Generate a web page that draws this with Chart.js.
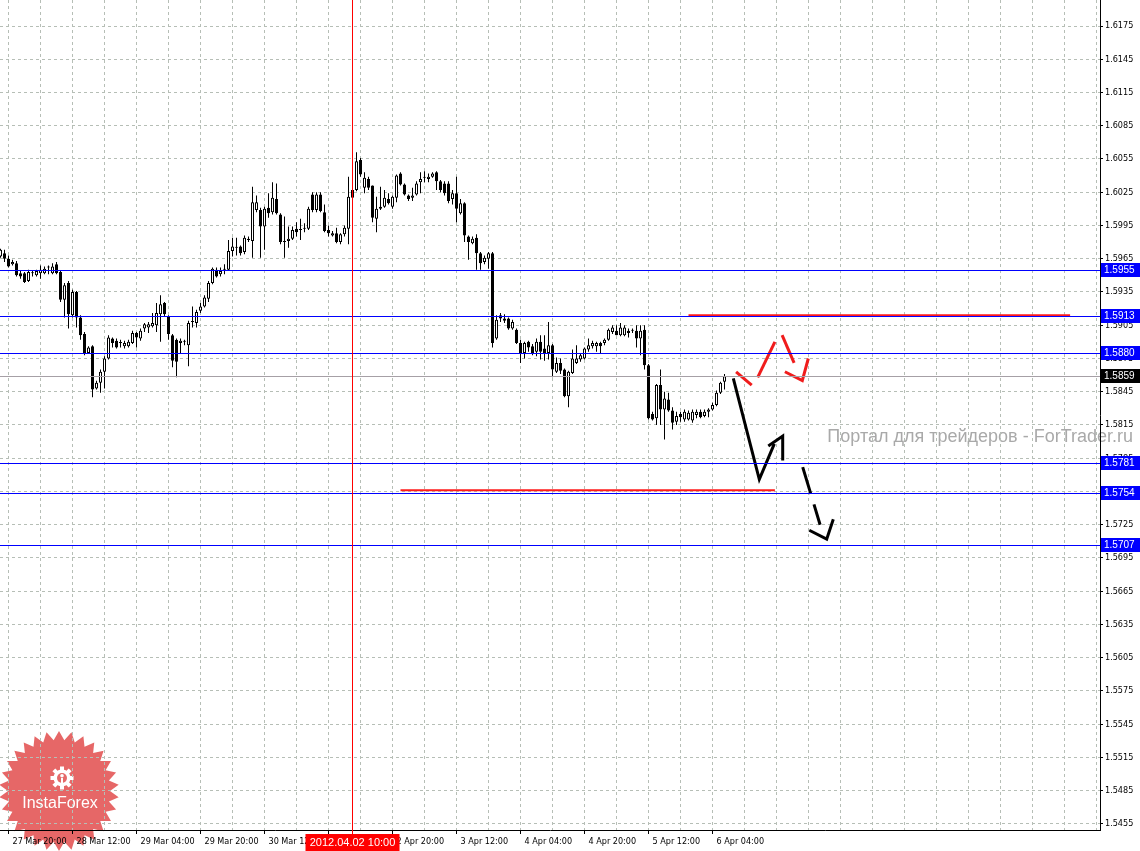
<!DOCTYPE html>
<html>
<head>
<meta charset="utf-8">
<script src="https://cdn.jsdelivr.net/npm/chart.js@4.4.1/dist/chart.umd.min.js"></script>
<style>
  html, body { margin: 0; padding: 0; background: #fff; }
  canvas { display: block; }
</style>
</head>
<body>
<canvas id="chart" width="1140" height="851"></canvas>
<script>
// GBPUSD H1 - bar index 0 = 27 Mar 20:00
const firstBar = -2;
const opens = [
  1.5967,1.5970,1.5965,1.5960,1.5961,1.5952,1.5952,1.5945,1.5952,1.5950,
  1.5952,1.5952,1.5957,1.5952,1.5960,1.5953,1.5928,1.5943,1.5914,1.5935,
  1.5912,1.5897,1.5880,1.5886,1.5848,1.5853,1.5863,1.5875,1.5893,1.5891,
  1.5889,1.5886,1.5886,1.5889,1.5898,1.5893,1.5902,1.5903,1.5904,1.5905,
  1.5915,1.5925,1.5913,1.5896,1.5892,1.5889,1.5890,1.5887,1.5908,1.5907,
  1.5918,1.5922,1.5929,1.5943,1.5955,1.5951,1.5955,1.5955,1.5972,1.5975,
  1.5976,1.5971,1.5983,1.5981,1.6009,1.6009,1.5994,1.6011,1.6007,1.6019,
  1.6005,1.5980,1.5981,1.5983,1.5992,1.5991,1.5992,1.5992,1.6023,1.6009,
  1.6023,1.6007,1.5991,1.5986,1.5988,1.5980,1.5987,1.5992,1.6027,1.6027,
  1.6054,1.6029,1.6037,1.6031,1.6001,1.6010,1.6012,1.6019,1.6012,1.6020,
  1.6042,1.6032,1.6022,1.6020,1.6023,1.6034,1.6038,1.6037,1.6039,1.6043,
  1.6035,1.6033,1.6033,1.6019,1.6024,1.6006,1.6015,1.5985,1.5979,1.5984,
  1.5970,1.5962,1.5965,1.5970,1.5893,1.5914,1.5911,1.5911,1.5902,1.5901,
  1.5889,1.5880,1.5890,1.5886,1.5881,1.5890,1.5884,1.5880,1.5887,1.5863,
  1.5871,1.5865,1.5841,1.5862,1.5871,1.5874,1.5875,1.5883,1.5886,1.5886,
  1.5889,1.5889,1.5892,1.5899,1.5900,1.5896,1.5896,1.5900,1.5900,1.5900,
  1.5893,1.5901,1.5869,1.5825,1.5821,1.5851,1.5829,1.5838,1.5828,1.5818,
  1.5825,1.5820,1.5820,1.5819,1.5824,1.5827,1.5823,1.5827,1.5829,1.5833,
  1.5844,1.5854
];
const highs = [
  1.5974,1.5973,1.5968,1.5964,1.5963,1.5954,1.5953,1.5955,1.5954,1.5955,
  1.5959,1.5958,1.5959,1.5961,1.5962,1.5954,1.5943,1.5945,1.5937,1.5936,
  1.5914,1.5899,1.5886,1.5887,1.5855,1.5865,1.5877,1.5896,1.5894,1.5893,
  1.5892,1.5891,1.5892,1.5900,1.5899,1.5902,1.5907,1.5908,1.5916,1.5925,
  1.5932,1.5926,1.5914,1.5897,1.5893,1.5893,1.5892,1.5909,1.5922,1.5919,
  1.5925,1.5932,1.5945,1.5957,1.5957,1.5957,1.5960,1.5982,1.5984,1.5984,
  1.5977,1.5986,1.5985,1.6030,1.6022,1.6011,1.6012,1.6024,1.6034,1.6033,
  1.6006,1.6003,1.5994,1.5994,1.5998,1.6001,1.5997,1.6012,1.6025,1.6025,
  1.6025,1.6014,1.5995,1.5990,1.5993,1.5988,1.5995,1.6039,1.6028,1.6061,
  1.6056,1.6043,1.6039,1.6031,1.6021,1.6030,1.6027,1.6024,1.6022,1.6041,
  1.6043,1.6033,1.6023,1.6029,1.6035,1.6043,1.6044,1.6042,1.6043,1.6044,
  1.6036,1.6035,1.6035,1.6027,1.6039,1.6019,1.6016,1.5986,1.5985,1.5987,
  1.5971,1.5968,1.5971,1.5971,1.5914,1.5916,1.5915,1.5912,1.5910,1.5902,
  1.5892,1.5890,1.5891,1.5888,1.5893,1.5896,1.5896,1.5908,1.5888,1.5876,
  1.5875,1.5866,1.5864,1.5883,1.5887,1.5879,1.5885,1.5893,1.5891,1.5890,
  1.5890,1.5893,1.5902,1.5905,1.5905,1.5907,1.5905,1.5902,1.5902,1.5905,
  1.5905,1.5905,1.5870,1.5827,1.5852,1.5865,1.5845,1.5844,1.5831,1.5827,
  1.5827,1.5829,1.5828,1.5829,1.5829,1.5829,1.5829,1.5830,1.5835,1.5846,
  1.5854,1.5861
];
const lows = [
  1.5966,1.5962,1.5957,1.5959,1.5949,1.5947,1.5943,1.5944,1.5949,1.5949,
  1.5947,1.5951,1.5951,1.5951,1.5951,1.5926,1.5912,1.5902,1.5912,1.5903,
  1.5892,1.5878,1.5879,1.5840,1.5847,1.5844,1.5848,1.5874,1.5885,1.5884,
  1.5885,1.5884,1.5885,1.5888,1.5885,1.5891,1.5899,1.5898,1.5903,1.5899,
  1.5890,1.5913,1.5892,1.5867,1.5858,1.5880,1.5887,1.5868,1.5903,1.5903,
  1.5916,1.5921,1.5926,1.5942,1.5948,1.5949,1.5951,1.5954,1.5967,1.5968,
  1.5968,1.5969,1.5980,1.5966,1.6007,1.5966,1.5973,1.6002,1.6005,1.6005,
  1.5978,1.5966,1.5975,1.5982,1.5985,1.5982,1.5989,1.5991,1.6007,1.6007,
  1.6007,1.5989,1.5985,1.5985,1.5979,1.5978,1.5985,1.5978,1.6019,1.6026,
  1.6039,1.6024,1.6027,1.5998,1.5989,1.6009,1.6011,1.6014,1.6010,1.6016,
  1.6031,1.6022,1.6017,1.6017,1.6022,1.6024,1.6034,1.6034,1.6038,1.6027,
  1.6025,1.6022,1.6015,1.6014,1.5998,1.6005,1.5980,1.5964,1.5978,1.5955,
  1.5955,1.5960,1.5956,1.5885,1.5892,1.5908,1.5907,1.5901,1.5901,1.5888,
  1.5871,1.5875,1.5881,1.5878,1.5877,1.5874,1.5873,1.5874,1.5858,1.5862,
  1.5861,1.5840,1.5831,1.5861,1.5870,1.5872,1.5874,1.5881,1.5884,1.5881,
  1.5880,1.5887,1.5891,1.5897,1.5896,1.5895,1.5895,1.5894,1.5898,1.5885,
  1.5878,1.5865,1.5820,1.5819,1.5815,1.5815,1.5802,1.5827,1.5811,1.5815,
  1.5818,1.5818,1.5819,1.5817,1.5821,1.5821,1.5822,1.5822,1.5828,1.5832,
  1.5843,1.5847
];
const closes = [
  1.5973,1.5965,1.5958,1.5962,1.5950,1.5949,1.5944,1.5953,1.5952,1.5954,
  1.5955,1.5956,1.5957,1.5958,1.5952,1.5928,1.5941,1.5915,1.5935,1.5912,
  1.5896,1.5880,1.5885,1.5847,1.5853,1.5863,1.5875,1.5894,1.5889,1.5885,
  1.5889,1.5889,1.5890,1.5898,1.5894,1.5900,1.5906,1.5906,1.5907,1.5916,
  1.5924,1.5915,1.5897,1.5873,1.5872,1.5891,1.5890,1.5907,1.5908,1.5917,
  1.5922,1.5930,1.5943,1.5956,1.5949,1.5954,1.5955,1.5972,1.5976,1.5975,
  1.5970,1.5984,1.5982,1.6016,1.6016,1.5994,1.6010,1.6006,1.6020,1.6006,
  1.5980,1.5980,1.5983,1.5991,1.5989,1.5991,1.5992,1.6010,1.6009,1.6023,
  1.6008,1.5990,1.5988,1.5988,1.5980,1.5987,1.5993,1.6021,1.6020,1.6053,
  1.6041,1.6038,1.6029,1.6002,1.6010,1.6012,1.6020,1.6015,1.6021,1.6040,
  1.6032,1.6023,1.6019,1.6022,1.6033,1.6037,1.6038,1.6039,1.6042,1.6035,
  1.6027,1.6024,1.6017,1.6024,1.6010,1.6015,1.5986,1.5980,1.5983,1.5970,
  1.5961,1.5966,1.5970,1.5889,1.5910,1.5911,1.5909,1.5902,1.5908,1.5889,
  1.5880,1.5889,1.5885,1.5880,1.5890,1.5881,1.5880,1.5887,1.5865,1.5871,
  1.5864,1.5841,1.5863,1.5875,1.5875,1.5878,1.5884,1.5887,1.5889,1.5889,
  1.5886,1.5892,1.5901,1.5903,1.5896,1.5903,1.5903,1.5898,1.5900,1.5893,
  1.5900,1.5869,1.5821,1.5820,1.5851,1.5829,1.5839,1.5828,1.5817,1.5823,
  1.5822,1.5827,1.5826,1.5827,1.5827,1.5822,1.5827,1.5829,1.5833,1.5844,
  1.5853,1.5859
];

const timeLabelBars = [0, 16, 32, 48, 64, 80, 96, 112, 128, 144, 160, 176];
const timeLabels = ['27 Mar 20:00', '28 Mar 12:00', '29 Mar 04:00', '29 Mar 20:00', '30 Mar 12:00',
  '2 Apr 04:00', '2 Apr 20:00', '3 Apr 12:00', '4 Apr 04:00', '4 Apr 20:00', '5 Apr 12:00', '6 Apr 04:00'];
const priceTicks = [1.5455, 1.5485, 1.5515, 1.5545, 1.5575, 1.5605, 1.5635, 1.5665, 1.5695,
  1.5725, 1.5755, 1.5785, 1.5815, 1.5845, 1.5875, 1.5905, 1.5935, 1.5965, 1.5995,
  1.6025, 1.6055, 1.6085, 1.6115, 1.6145, 1.6175];

const levels = [1.5955, 1.5913, 1.5880, 1.5781, 1.5754, 1.5707];
const bidPrice = 1.5859;
const cursorBar = 86;
const cursorLabel = '2012.04.02 10:00';
const watermark = 'Портал для трейдеров - ForTrader.ru';

// hand drawn marks: [bar, price]
const redLines = [
  [[170, 1.5914], [265.4, 1.5914]],
  [[98, 1.5756], [191.6, 1.5756]]
];
const redArrows = [
  [[181.9, 1.5863], [185.8, 1.5851]],
  [[187.3, 1.5858], [191.6, 1.5890]],
  [[193.4, 1.5896], [196.4, 1.5871]],
  [[194.1, 1.5863], [198.45, 1.5855], [199.95, 1.5875]]
];
const blackArrows = [
  [[181.2, 1.5857], [187.7, 1.5766], [191.45, 1.5798]],
  [[189.95, 1.5796], [193.55, 1.5805], [193.55, 1.5783]],
  [[200.2, 1.5720], [204.55, 1.5712], [206.2, 1.5730]]
];
const blackDashed = [[198.55, 1.5777], [202.9, 1.5725]];

const FONT = '"Liberation Sans", Arial, sans-serif';
const AXIS_FONT = '"DejaVu Sans Condensed", "DejaVu Sans", sans-serif';
const gridColor = '#b6beb6';

const bars = opens.map((_, k) => firstBar + k);
const wickData = bars.map((b, k) => ({ x: b, y: [lows[k], highs[k]] }));
const bodyData = bars.map((b, k) => ({ x: b, y: [Math.min(opens[k], closes[k]), Math.max(opens[k], closes[k])] }));
const bodyColors = bars.map((b, k) => closes[k] >= opens[k] ? '#ffffff' : '#000000');

const gridBars = [];
for (let b = 0; b <= 272; b += 8) gridBars.push(b);

function lineSet(path, color, width, dash) {
  return {
    type: 'line',
    data: path.map(p => ({ x: p[0], y: p[1] })),
    borderColor: color,
    borderWidth: width,
    borderDash: dash || [],
    pointRadius: 0,
    fill: false,
    tension: 0,
    order: 0
  };
}

function drawLogo(ctx, cx, cy) {
  const n = 30, rOut = 60, rIn = 51;
  ctx.beginPath();
  for (let i = 0; i < n * 2; i++) {
    const r = i % 2 ? rIn : rOut;
    const a = -Math.PI / 2 + i * Math.PI / n;
    const px = cx + r * Math.cos(a), py = cy + r * Math.sin(a);
    if (i === 0) ctx.moveTo(px, py); else ctx.lineTo(px, py);
  }
  ctx.closePath();
  ctx.fillStyle = 'rgba(222,52,52,0.75)';
  ctx.fill();
  // gear
  const gx = cx + 3, gy = cy - 13;
  ctx.fillStyle = '#fff';
  ctx.beginPath();
  ctx.arc(gx, gy, 8.5, 0, Math.PI * 2);
  ctx.fill();
  for (let i = 0; i < 8; i++) {
    ctx.save();
    ctx.translate(gx, gy);
    ctx.rotate(i * Math.PI / 4);
    ctx.fillRect(-2, -11.5, 4, 5);
    ctx.restore();
  }
  ctx.fillStyle = '#e56a6a';
  ctx.beginPath();
  ctx.arc(gx, gy, 5, 0, Math.PI * 2);
  ctx.fill();
  ctx.fillStyle = '#fff';
  ctx.beginPath();
  ctx.arc(gx, gy - 2.2, 1.8, 0, Math.PI * 2);
  ctx.fill();
  ctx.fillRect(gx - 1, gy, 2, 6);
  ctx.font = '16px ' + FONT;
  ctx.textAlign = 'center';
  ctx.textBaseline = 'middle';
  ctx.fillText('InstaForex', cx + 1, cy + 13);
}

const decor = {
  id: 'decor',
  beforeDraw(chart) {
    const ctx = chart.ctx;
    ctx.save();
    ctx.fillStyle = '#fff';
    ctx.fillRect(0, 0, chart.width, chart.height);
    ctx.font = '18px ' + FONT;
    ctx.fillStyle = '#a9a9a9';
    ctx.textAlign = 'right';
    ctx.textBaseline = 'middle';
    ctx.fillText(watermark, 1133, 437);
    drawLogo(ctx, 59, 791);
    ctx.restore();
  },
  afterDatasetsDraw(chart) {
    const { ctx, chartArea: a, scales: { x, y } } = chart;
    ctx.save();
    ctx.lineWidth = 1;
    let py = Math.round(y.getPixelForValue(bidPrice)) + 0.5;
    ctx.strokeStyle = '#a6a0a6';
    ctx.beginPath(); ctx.moveTo(a.left, py); ctx.lineTo(a.right, py); ctx.stroke();
    ctx.strokeStyle = '#0000ff';
    levels.forEach(v => {
      const ly = Math.round(y.getPixelForValue(v)) + 0.5;
      ctx.beginPath(); ctx.moveTo(a.left, ly); ctx.lineTo(a.right, ly); ctx.stroke();
    });
    const px = Math.floor(x.getPixelForValue(cursorBar)) + 0.5;
    ctx.strokeStyle = '#ff0000';
    ctx.beginPath(); ctx.moveTo(px, a.top); ctx.lineTo(px, a.bottom + 4); ctx.stroke();
    ctx.restore();
  },
  afterDraw(chart) {
    const { ctx, chartArea: a, scales: { x, y } } = chart;
    ctx.save();
    ctx.textBaseline = 'middle';
    ctx.textAlign = 'left';
    ctx.font = '10px ' + FONT;
    const box = (v, bg) => {
      const cy = Math.round(y.getPixelForValue(v));
      ctx.fillStyle = bg;
      ctx.fillRect(a.right + 1, cy - 7, 40, 14);
      ctx.fillStyle = '#fff';
      ctx.fillText(v.toFixed(4), a.right + 4, cy + 0.5);
    };
    levels.forEach(v => box(v, '#0000ff'));
    box(bidPrice, '#000000');
    // cursor time label
    const px = Math.floor(x.getPixelForValue(cursorBar)) + 0.5;
    ctx.fillStyle = '#ff0000';
    ctx.fillRect(px - 47, a.bottom + 4, 94, 17);
    ctx.fillStyle = '#fff';
    ctx.font = '11px ' + FONT;
    ctx.textAlign = 'center';
    ctx.fillText(cursorLabel, px, a.bottom + 13);
    ctx.restore();
  }
};

Chart.defaults.font.family = FONT;

new Chart(document.getElementById('chart'), {
  type: 'bar',
  data: {
    datasets: [
      {
        data: bodyData,
        backgroundColor: bodyColors,
        borderColor: '#000',
        borderWidth: 1,
        borderSkipped: false,
        barThickness: 3,
        minBarLength: 1,
        inflateAmount: 0,
        grouped: false,
        order: 1
      },
      {
        data: wickData,
        backgroundColor: '#000',
        borderWidth: 0,
        barThickness: 1,
        minBarLength: 1,
        inflateAmount: 0,
        grouped: false,
        order: 2
      },
      ...redLines.map(p => lineSet(p, '#ff1a1a', 2)),
      ...redArrows.map(p => lineSet(p, '#f01c1c', 3)),
      ...blackArrows.map(p => lineSet(p, '#000', 3)),
      lineSet(blackDashed, '#000', 3, [28, 11])
    ]
  },
  options: {
    responsive: false,
    animation: false,
    events: [],
    layout: { padding: 0 },
    plugins: { legend: { display: false }, tooltip: { enabled: false } },
    scales: {
      x: {
        type: 'linear',
        min: firstBar - 0.125,
        max: 272.875,
        offset: false,
        afterBuildTicks: s => { s.ticks = gridBars.map(v => ({ value: v })); },
        afterFit: s => { s.height = 21; s.paddingLeft = 0; s.paddingRight = 0; },
        grid: {
          offset: false,
          color: gridColor,
          borderDash: [3, 3],
          tickLength: 4,
          tickBorderDash: [],
          tickColor: c => timeLabelBars.includes(c.tick.value) ? '#000' : 'rgba(0,0,0,0)'
        },
        border: { display: true, color: '#000', width: 1, dash: [3, 3] },
        ticks: {
          autoSkip: false,
          maxRotation: 0,
          minRotation: 0,
          align: 'start',
          labelOffset: 4,
          padding: 2,
          color: '#000',
          font: { family: AXIS_FONT, size: 9 },
          callback: v => {
            const k = timeLabelBars.indexOf(v);
            return k >= 0 ? timeLabels[k] : '';
          }
        }
      },
      y: {
        type: 'linear',
        position: 'right',
        min: 1.544955,
        max: 1.619846,
        afterBuildTicks: s => { s.ticks = priceTicks.map(v => ({ value: v })); },
        afterFit: s => { s.width = 40; s.paddingTop = 0; s.paddingBottom = 0; },
        grid: {
          color: gridColor,
          borderDash: [3, 3],
          tickLength: 3,
          tickBorderDash: [],
          tickColor: '#000'
        },
        border: { display: true, color: '#000', width: 1, dash: [3, 3] },
        ticks: {
          autoSkip: false,
          crossAlign: 'near',
          padding: 2,
          color: '#000',
          font: { family: AXIS_FONT, size: 9 },
          callback: v => v.toFixed(4)
        }
      }
    }
  },
  plugins: [decor]
});
</script>
</body>
</html>
